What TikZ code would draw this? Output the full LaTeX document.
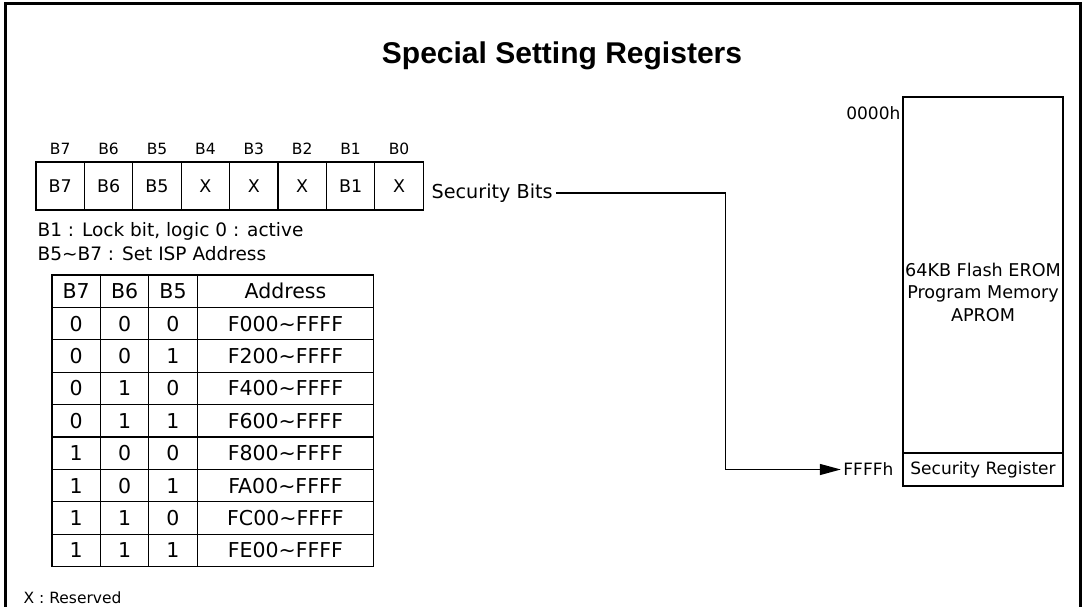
\documentclass[tikz,border=0pt]{standalone}
\usepackage{fontspec}
\setmainfont{DejaVu Sans}
\newfontfamily\titlefont{Liberation Sans}
\usetikzlibrary{positioning,arrows.meta}

\begin{document}
\begin{tikzpicture}[x=1pt, y=-1pt, line width=1.3pt, node distance=48.4pt,
  bit/.style = {draw, minimum width=48.4pt, minimum height=48pt, inner sep=0pt, font=\fontsize{17.5}{20}\selectfont},
  bitname/.style = {inner sep=0pt, font=\fontsize{15.5}{19}\selectfont},
  col/.style = {draw, minimum width=48.4pt, minimum height=32.4pt, inner sep=0pt, font=\fontsize{20.5}{24}\selectfont},
  addr/.style = {col, minimum width=176.5pt},
  note/.style = {anchor=west, inner sep=0pt, font=\fontsize{18.5}{21}\selectfont},
  label/.style = {inner sep=2pt, font=\fontsize{17}{20}\selectfont}]
\useasboundingbox (0,0) rectangle (1085,607);
\draw[line width=3pt] (5,607) -- (5,4) -- (1080,4) -- (1080,607);

\node[font=\titlefont\bfseries\fontsize{30}{36}\selectfont] (title) at (562,56) {Special Setting Registers};

\node[bit] (b7) at (60.2,186) {B7};
\node[bit] (b6) [right of=b7] {B6};
\node[bit] (b5) [right of=b6] {B5};
\node[bit] (b4) [right of=b5] {X};
\node[bit] (b3) [right of=b4] {X};
\node[bit] (b2) [right of=b3] {X};
\node[bit] (b1) [right of=b2] {B1};
\node[bit] (b0) [right of=b1] {X};

\node[bitname] (n7) [above of=b7, node distance=37pt] {B7};
\node[bitname] (n6) [above of=b6, node distance=37pt] {B6};
\node[bitname] (n5) [above of=b5, node distance=37pt] {B5};
\node[bitname] (n4) [above of=b4, node distance=37pt] {B4};
\node[bitname] (n3) [above of=b3, node distance=37pt] {B3};
\node[bitname] (n2) [above of=b2, node distance=37pt] {B2};
\node[bitname] (n1) [above of=b1, node distance=37pt] {B1};
\node[bitname] (n0) [above of=b0, node distance=37pt] {B0};

\node[note] (lock) at (37,231) {B1 : Lock bit, logic 0 : active};
\node[note] (isp) at (37,254) {B5\textasciitilde B7 : Set ISP Address};
\node[note, font=\fontsize{15.5}{19}\selectfont] (reserved) at (23,598) {X : Reserved};

\node[col] (t0a) at (76.2,291.2) {B7};
\node[col] (t0b) [right of=t0a] {B6};
\node[col] (t0c) [right of=t0b] {B5};
\node[addr] (t0d) [right of=t0c, node distance=112.45pt] {Address};

\node[col] (t1a) [below of=t0a, node distance=32.4pt] {0};
\node[col] (t1b) [right of=t1a] {0};
\node[col] (t1c) [right of=t1b] {0};
\node[addr] (t1d) [right of=t1c, node distance=112.45pt] {F000\textasciitilde FFFF};

\node[col] (t2a) [below of=t1a, node distance=32.4pt] {0};
\node[col] (t2b) [right of=t2a] {0};
\node[col] (t2c) [right of=t2b] {1};
\node[addr] (t2d) [right of=t2c, node distance=112.45pt] {F200\textasciitilde FFFF};

\node[col] (t3a) [below of=t2a, node distance=32.4pt] {0};
\node[col] (t3b) [right of=t3a] {1};
\node[col] (t3c) [right of=t3b] {0};
\node[addr] (t3d) [right of=t3c, node distance=112.45pt] {F400\textasciitilde FFFF};

\node[col] (t4a) [below of=t3a, node distance=32.4pt] {0};
\node[col] (t4b) [right of=t4a] {1};
\node[col] (t4c) [right of=t4b] {1};
\node[addr] (t4d) [right of=t4c, node distance=112.45pt] {F600\textasciitilde FFFF};

\node[col] (t5a) [below of=t4a, node distance=32.4pt] {1};
\node[col] (t5b) [right of=t5a] {0};
\node[col] (t5c) [right of=t5b] {0};
\node[addr] (t5d) [right of=t5c, node distance=112.45pt] {F800\textasciitilde FFFF};

\node[col] (t6a) [below of=t5a, node distance=32.4pt] {1};
\node[col] (t6b) [right of=t6a] {0};
\node[col] (t6c) [right of=t6b] {1};
\node[addr] (t6d) [right of=t6c, node distance=112.45pt] {FA00\textasciitilde FFFF};

\node[col] (t7a) [below of=t6a, node distance=32.4pt] {1};
\node[col] (t7b) [right of=t7a] {1};
\node[col] (t7c) [right of=t7b] {0};
\node[addr] (t7d) [right of=t7c, node distance=112.45pt] {FC00\textasciitilde FFFF};

\node[col] (t8a) [below of=t7a, node distance=32.4pt] {1};
\node[col] (t8b) [right of=t8a] {1};
\node[col] (t8c) [right of=t8b] {1};
\node[addr] (t8d) [right of=t8c, node distance=112.45pt] {FE00\textasciitilde FFFF};

\node[draw, minimum width=160pt, minimum height=356pt, inner sep=0pt] (aprom) at (983,275) {};
\node[draw, minimum width=160pt, minimum height=33pt, inner sep=0pt, font=\fontsize{17}{20}\selectfont] (secreg) [below of=aprom, node distance=194.5pt] {Security Register};
\node[align=center, inner sep=0pt, font=\fontsize{17.6}{22.5}\selectfont] (apromtext) at (983,292) {64KB Flash EROM\\Program Memory\\APROM};
\node[label, anchor=east, inner sep=1pt] (start) at (902,113) {0000h};
\node[label, anchor=east] (ffff) at (896,469.5) {FFFFh};

\node[label, anchor=west, inner sep=3pt, font=\fontsize{19.2}{22}\selectfont] (secbits) at (428,193) {Security Bits};
\coordinate (turn) at (725.5,469.5);
\draw[-{Triangle[length=21pt,width=11pt]}] (secbits.east) -| (turn) -- (ffff.west);
\end{tikzpicture}
\end{document}
